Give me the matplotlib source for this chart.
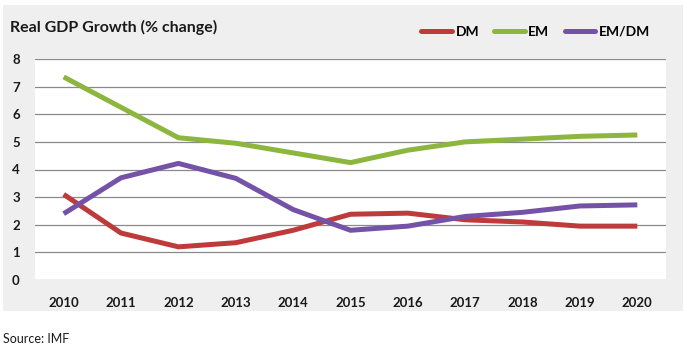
import matplotlib
matplotlib.use("Agg")
import matplotlib.pyplot as plt

years = ["2010", "2011", "2012", "2013", "2014", "2015", "2016", "2017", "2018", "2019", "2020"]
dm = [3.1, 1.7, 1.2, 1.35, 1.8, 2.38, 2.42, 2.18, 2.1, 1.95, 1.95]
em = [7.35, 6.25, 5.15, 4.95, 4.6, 4.25, 4.7, 5.0, 5.1, 5.2, 5.25]
em_dm = [2.4, 3.7, 4.22, 3.68, 2.55, 1.8, 1.95, 2.3, 2.45, 2.68, 2.72]
y_ticks = [0, 1, 2, 3, 4, 5, 6, 7, 8]

plt.rcParams['font.family'] = ['Lato', 'DejaVu Sans']

W, H = 687, 350
fig = plt.figure(figsize=(W / 100, H / 100), dpi=100)
fig.patch.set_facecolor('white')

bg = fig.add_axes([3 / W, 1 - 311 / H, 680 / W, 306 / H])
bg.set_facecolor('#efefef')
bg.set_xticks([])
bg.set_yticks([])
for s in bg.spines.values():
    s.set_visible(False)
bg.set_zorder(0)

ax = fig.add_axes([35 / W, 1 - 280 / H, 631 / W, 221 / H])
ax.set_zorder(1)
ax.set_facecolor('white')
x = list(range(len(years)))
style = dict(lw=3.6, solid_capstyle='butt', solid_joinstyle='round', zorder=3)
ax.plot(x, dm, color='#bf3a3a', label='DM', **style)
ax.plot(x, em, color='#8db63f', label='EM', **style)
ax.plot(x, em_dm, color='#7452a8', label='EM/DM', **style)

ax.set_xlim(-0.5, len(years) - 0.5)
ax.set_ylim(0, 8)
ax.set_yticks(y_ticks)
ax.set_xticks(x)
ax.set_xticklabels(years)
ax.grid(axis='y', color='#8a8a8a', lw=0.9)
ax.set_axisbelow(True)
for s in ax.spines.values():
    s.set_visible(False)
ax.tick_params(length=0)
ax.tick_params(axis='y', pad=11)
ax.tick_params(axis='x', pad=12)
for lab in ax.get_xticklabels() + ax.get_yticklabels():
    lab.set_fontweight('bold')
    lab.set_fontsize(9.5)
    lab.set_color('#1a1a1a')

fig.text(10 / W, 1 - 27 / H, 'Real GDP Growth (% change)', fontsize=11.5, fontweight='bold',
         va='center', ha='left', color='#1a1a1a', zorder=5)

leg = fig.legend(loc='center right', bbox_to_anchor=(650 / W, 1 - 32 / H), ncol=3, frameon=False,
                 handlelength=2.2, handletextpad=0.25, columnspacing=1.1,
                 prop={'weight': 'bold', 'size': 10}, borderaxespad=0, borderpad=0)
leg.set_zorder(5)
for ln in leg.get_lines():
    ln.set_solid_capstyle('round')
    ln.set_linewidth(3.6)

fig.text(3 / W, 1 - 339 / H, 'Source: IMF', fontsize=9, va='center', ha='left', color='#1a1a1a')

fig.savefig('out.png', dpi=100)
